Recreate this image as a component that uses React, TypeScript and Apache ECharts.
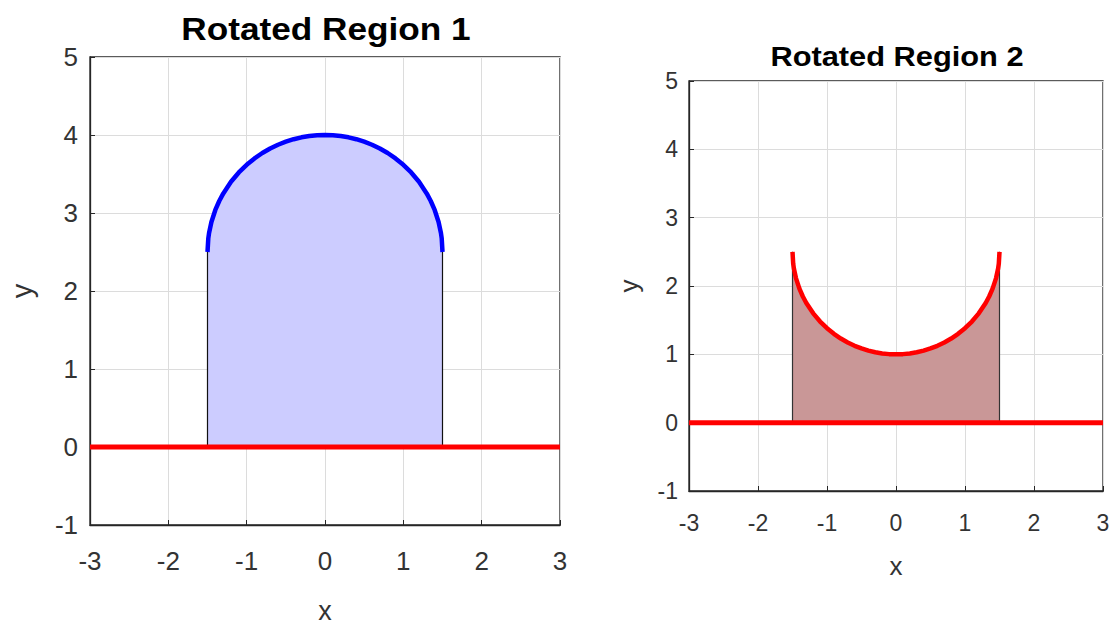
import React, { useEffect, useRef } from "react";
import * as echarts from "echarts";

// x positions along the curved edge
const arcX = [-1.5, -1.49, -1.48, -1.45, -1.4, -1.35, -1.3, -1.2, -1.1, -1.0, -0.9, -0.8, -0.7, -0.6, -0.5, -0.4, -0.3, -0.2, -0.1, 0, 0.1, 0.2, 0.3, 0.4, 0.5, 0.6, 0.7, 0.8, 0.9, 1.0, 1.1, 1.2, 1.3, 1.35, 1.4, 1.45, 1.48, 1.49, 1.5];
// Region 1 upper (blue) edge
const region1Top = [2.5, 2.673, 2.744, 2.884, 3.039, 3.154, 3.248, 3.4, 3.52, 3.618, 3.7, 3.769, 3.827, 3.875, 3.914, 3.946, 3.97, 3.987, 3.997, 4.0, 3.997, 3.987, 3.97, 3.946, 3.914, 3.875, 3.827, 3.769, 3.7, 3.618, 3.52, 3.4, 3.248, 3.154, 3.039, 2.884, 2.744, 2.673, 2.5];
// Region 2 upper (red) edge
const region2Top = [2.5, 2.327, 2.256, 2.116, 1.961, 1.846, 1.752, 1.6, 1.48, 1.382, 1.3, 1.231, 1.173, 1.125, 1.086, 1.054, 1.03, 1.013, 1.003, 1.0, 1.003, 1.013, 1.03, 1.054, 1.086, 1.125, 1.173, 1.231, 1.3, 1.382, 1.48, 1.6, 1.752, 1.846, 1.961, 2.116, 2.256, 2.327, 2.5];
// axis line y = 0
const baseX = [-3, 3];
const baseY = [0, 0];
const regionLeft = -1.5;
const regionRight = 1.5;

const titles = ["Rotated Region 1", "Rotated Region 2"];
const xRange = [-3, 3];
const yRange = [-1, 5];

const FONT = "'Liberation Sans', Arial, Helvetica, sans-serif";
const AX = "#262626";
const LBL = "#333333";

export default function App() {
  const ref = useRef<HTMLDivElement>(null);
  useEffect(() => {
    if (!ref.current) return;
    const chart = echarts.init(ref.current, null, { renderer: "svg" });

    const curve = (ys: number[]) => arcX.map((x, i) => [x, ys[i]]);
    const fillPoly = (ys: number[]) => [[regionLeft, 0], ...curve(ys), [regionRight, 0]];
    const base = baseX.map((x, i) => [x, baseY[i]]);

    const mkX = (idx: number, fs: number, nameFs: number, margin: number, nameGap: number) => ({
      type: "value",
      gridIndex: idx,
      min: xRange[0],
      max: xRange[1],
      interval: 1,
      name: "x",
      nameLocation: "middle",
      nameGap,
      nameTextStyle: { fontSize: nameFs, lineHeight: 22, color: LBL, fontFamily: FONT },
      axisLine: { show: true, onZero: false, lineStyle: { color: AX, width: 1.3 } },
      axisTick: { show: true, inside: true, length: 5, lineStyle: { color: AX } },
      axisLabel: { fontSize: fs, color: LBL, fontFamily: FONT, margin },
      splitLine: { show: true, lineStyle: { color: "#dcdcdc", width: 1 } },
    });
    const mkY = (idx: number, fs: number, nameFs: number, margin: number, nameGap: number) => ({
      type: "value",
      gridIndex: idx,
      min: yRange[0],
      max: yRange[1],
      interval: 1,
      name: "y",
      nameLocation: "middle",
      nameGap,
      nameTextStyle: { fontSize: nameFs, color: LBL, fontFamily: FONT },
      axisLine: { show: true, onZero: false, lineStyle: { color: AX, width: 1.3 } },
      axisTick: { show: true, inside: true, length: 5, lineStyle: { color: AX } },
      axisLabel: { fontSize: fs, color: LBL, fontFamily: FONT, margin },
      splitLine: { show: true, lineStyle: { color: "#dcdcdc", width: 1 } },
    });

    chart.setOption({
      animation: false,
      backgroundColor: "#ffffff",
      grid: [
        { left: 90, top: 57, width: 470, height: 468, show: true, borderColor: AX, borderWidth: 1.3, backgroundColor: "transparent", containLabel: false, outerBoundsMode: "none" },
        { left: 689, top: 81, width: 414, height: 410, show: true, borderColor: AX, borderWidth: 1.3, backgroundColor: "transparent", containLabel: false, outerBoundsMode: "none" },
      ],
      xAxis: [mkX(0, 26, 27, 23, 75), mkX(1, 23, 26, 20, 64)],
      yAxis: [mkY(0, 26, 29, 12, 54), mkY(1, 23, 26, 11, 47)],
      graphic: [
        {
          type: "text", x: 326, y: 29, scaleX: 1.1,
          style: { text: titles[0], fontSize: 32, fontWeight: "bold", fontFamily: FONT, fill: "#000", textAlign: "center", textVerticalAlign: "middle" },
        },
        {
          type: "text", x: 897, y: 56, scaleX: 1.1,
          style: { text: titles[1], fontSize: 28, fontWeight: "bold", fontFamily: FONT, fill: "#000", textAlign: "center", textVerticalAlign: "middle" },
        },
      ],
      series: [
        {
          type: "line", xAxisIndex: 0, yAxisIndex: 0, data: fillPoly(region1Top), showSymbol: false,
          lineStyle: { color: "#111", width: 1.2 }, areaStyle: { color: "#ccccff", opacity: 1, origin: 0 }, z: 2,
        },
        {
          type: "line", xAxisIndex: 0, yAxisIndex: 0, data: base, showSymbol: false,
          lineStyle: { color: "#ff0000", width: 5 }, z: 3,
        },
        {
          type: "line", xAxisIndex: 0, yAxisIndex: 0, data: curve(region1Top), showSymbol: false,
          lineStyle: { color: "#0000ff", width: 4.5 }, z: 4,
        },
        {
          type: "line", xAxisIndex: 1, yAxisIndex: 1, data: fillPoly(region2Top), showSymbol: false,
          lineStyle: { color: "#333", width: 1.2 }, areaStyle: { color: "#c99797", opacity: 1, origin: 0 }, z: 2,
        },
        {
          type: "line", xAxisIndex: 1, yAxisIndex: 1, data: base, showSymbol: false,
          lineStyle: { color: "#ff0000", width: 5 }, z: 3,
        },
        {
          type: "line", xAxisIndex: 1, yAxisIndex: 1, data: curve(region2Top), showSymbol: false,
          lineStyle: { color: "#ff0000", width: 4.5 }, z: 4,
        },
      ],
    });
    return () => chart.dispose();
  }, []);
  return <div ref={ref} style={{ position: "absolute", left: 0, top: 0, width: 1116, height: 626 }} />;
}
